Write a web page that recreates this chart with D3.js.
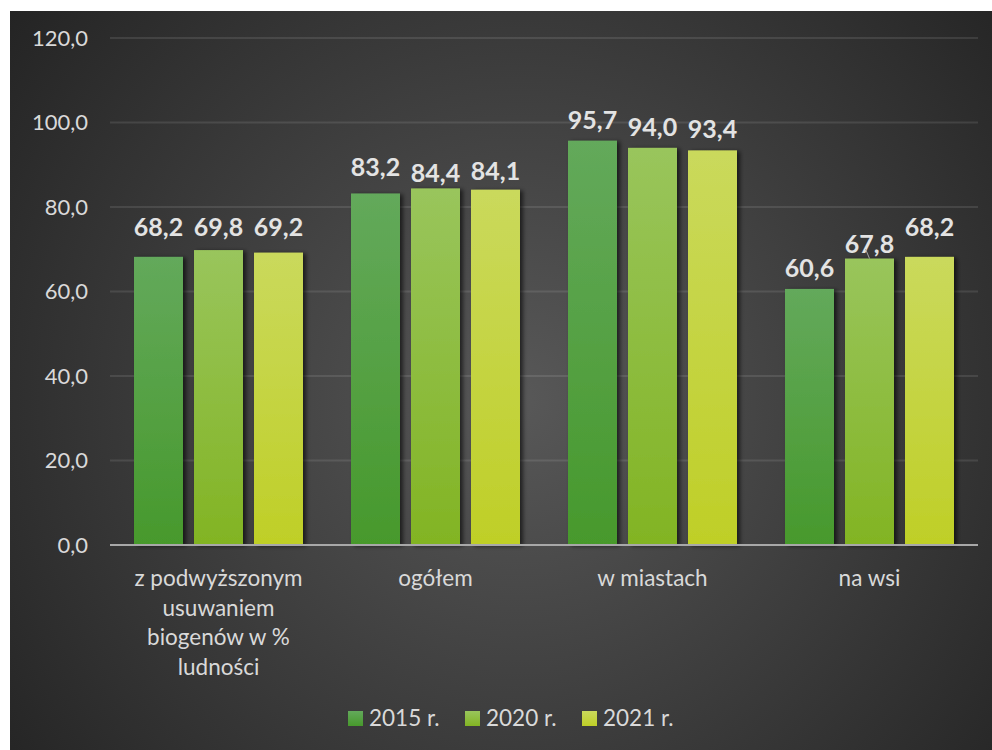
<!DOCTYPE html>
<html lang="pl">
<head>
<meta charset="utf-8">
<script src="https://cdn.jsdelivr.net/npm/d3@7"></script>
<style>
  html, body { margin: 0; padding: 0; background: #ffffff; }
  svg { display: block; }
</style>
</head>
<body>
<svg id="chart" width="992" height="750"></svg>
<script>
// Oczyszczalnie ścieków – odsetek ludności korzystającej (%)
const categories = [
  ["z podwyższonym", "usuwaniem", "biogenów w %", "ludności"],
  ["ogółem"],
  ["w miastach"],
  ["na wsi"]
];
const seriesNames = ["2015 r.", "2020 r.", "2021 r."];
const values2015 = [68.2, 83.2, 95.7, 60.6];
const values2020 = [69.8, 84.4, 94.0, 67.8];
const values2021 = [69.2, 84.1, 93.4, 68.2];
const yTicks = [0, 20, 40, 60, 80, 100, 120];

const seriesValues = [values2015, values2020, values2021];
const catKeys = categories.map(c => c.join(" "));

// gradient colours of each series (top, bottom)
const seriesColors = [
  ["#63a95b", "#47992c"],
  ["#99c55c", "#82b423"],
  ["#cad95c", "#bfcf27"]
];

const svg = d3.select("#chart");
const fontFamily = "Lato, 'Open Sans', sans-serif";
const defs = svg.append("defs");

// chart area background
const bg = defs.append("radialGradient")
  .attr("id", "bgGrad")
  .attr("gradientUnits", "userSpaceOnUse")
  .attr("cx", 520).attr("cy", 400).attr("r", 640);
bg.append("stop").attr("offset", "0%").attr("stop-color", "#585858");
bg.append("stop").attr("offset", "100%").attr("stop-color", "#242424");

seriesColors.forEach((c, i) => {
  const g = defs.append("linearGradient")
    .attr("id", "barGrad" + i)
    .attr("x1", 0).attr("y1", 0).attr("x2", 0).attr("y2", 1);
  g.append("stop").attr("offset", "0%").attr("stop-color", c[0]);
  g.append("stop").attr("offset", "100%").attr("stop-color", c[1]);
});

const shadow = defs.append("filter")
  .attr("id", "barShadow")
  .attr("x", "-20%").attr("y", "-10%").attr("width", "150%").attr("height", "130%");
shadow.append("feDropShadow")
  .attr("dx", 3).attr("dy", 1).attr("stdDeviation", 2)
  .attr("flood-color", "#000").attr("flood-opacity", 0.6);

svg.append("rect")
  .attr("x", 10).attr("y", 11)
  .attr("width", 982).attr("height", 739)
  .attr("fill", "url(#bgGrad)");

const plot = { left: 110, right: 978, top: 38, bottom: 545 };

const y = d3.scaleLinear()
  .domain([0, 120])
  .range([plot.bottom, plot.top]);

const x0 = d3.scaleBand()
  .domain(catKeys)
  .range([plot.left, plot.right])
  .padding(0);

const groupPad = 24;
const x1 = d3.scaleBand()
  .domain(seriesNames)
  .range([groupPad, x0.bandwidth() - groupPad])
  .paddingInner(11 / 60)
  .paddingOuter(0);

// gridlines
svg.append("g")
  .selectAll("line")
  .data(yTicks.filter(t => t > 0))
  .join("line")
  .attr("x1", plot.left).attr("x2", plot.right)
  .attr("y1", d => y(d)).attr("y2", d => y(d))
  .attr("stroke", "rgba(255,255,255,0.1)")
  .attr("stroke-width", 2);

// y axis labels
const yAxis = d3.axisLeft(y)
  .tickValues(yTicks)
  .tickFormat(d => d3.format(".1f")(d).replace(".", ","))
  .tickSize(0)
  .tickPadding(0);

const yAxisG = svg.append("g")
  .attr("transform", `translate(88,0)`)
  .call(yAxis);
yAxisG.select(".domain").remove();
yAxisG.selectAll("text")
  .attr("fill", "#d9d9d9")
  .attr("font-family", fontFamily)
  .attr("font-size", 22);

// bars
const groups = svg.append("g")
  .selectAll("g")
  .data(catKeys)
  .join("g")
  .attr("transform", d => `translate(${x0(d)},0)`);

groups.selectAll("rect")
  .data((d, ci) => seriesNames.map((s, si) => ({ s, si, v: seriesValues[si][ci] })))
  .join("rect")
  .attr("x", d => x1(d.s))
  .attr("width", x1.bandwidth())
  .attr("y", d => y(d.v))
  .attr("height", d => y(0) - y(d.v))
  .attr("fill", d => `url(#barGrad${d.si})`)
  .attr("filter", "url(#barShadow)");

// x axis baseline
svg.append("line")
  .attr("x1", plot.left).attr("x2", plot.right)
  .attr("y1", y(0)).attr("y2", y(0))
  .attr("stroke", "#a8a8a8")
  .attr("stroke-width", 2);

// data labels (some are moved to stay clear of neighbours)
const labelBaseline = (ci, si, v) => {
  if (ci === 0) return 236;
  if (ci === 1) return [176, 182, 180][si];
  if (ci === 3 && si === 2) return 236;
  if (ci === 3 && si === 1) return 253;
  return y(v) - 12;
};

const labelLayer = svg.append("g");
catKeys.forEach((k, ci) => {
  seriesNames.forEach((s, si) => {
    const v = seriesValues[si][ci];
    const cx = x0(k) + x1(s) + x1.bandwidth() / 2;
    const by = labelBaseline(ci, si, v);
    labelLayer.append("text")
      .attr("x", cx)
      .attr("y", by)
      .attr("text-anchor", "middle")
      .attr("fill", "#e3e3e3")
      .attr("font-family", fontFamily)
      .attr("font-weight", "bold")
      .attr("font-size", 25)
      .text(d3.format(".1f")(v).replace(".", ","));
    // leader line for the moved label
    if (ci === 3 && si === 1) {
      labelLayer.append("line")
        .attr("x1", cx - 4).attr("y1", by - 4)
        .attr("x2", cx).attr("y2", y(v))
        .attr("stroke", "#a6a6a6")
        .attr("stroke-width", 1);
    }
  });
});

// category labels
const catLabels = svg.append("g")
  .selectAll("text")
  .data(categories)
  .join("text")
  .attr("x", (d, i) => x0(catKeys[i]) + x0.bandwidth() / 2)
  .attr("y", 586)
  .attr("text-anchor", "middle")
  .attr("fill", "#d9d9d9")
  .attr("font-family", fontFamily)
  .attr("font-size", 22.5);

catLabels.selectAll("tspan")
  .data(d => d)
  .join("tspan")
  .attr("x", function () { return d3.select(this.parentNode).attr("x"); })
  .attr("dy", (d, i) => i === 0 ? 0 : 29.5)
  .text(d => d);

// legend
const legendX = [348, 465, 582];
const legend = svg.append("g")
  .selectAll("g")
  .data(seriesNames)
  .join("g")
  .attr("transform", (d, i) => `translate(${legendX[i]},711)`);

legend.append("rect")
  .attr("width", 15).attr("height", 15)
  .attr("fill", (d, i) => `url(#barGrad${i})`);

legend.append("text")
  .attr("x", 21)
  .attr("y", 15)
  .attr("fill", "#d9d9d9")
  .attr("font-family", fontFamily)
  .attr("font-size", 22.5)
  .text(d => d);
</script>
</body>
</html>
